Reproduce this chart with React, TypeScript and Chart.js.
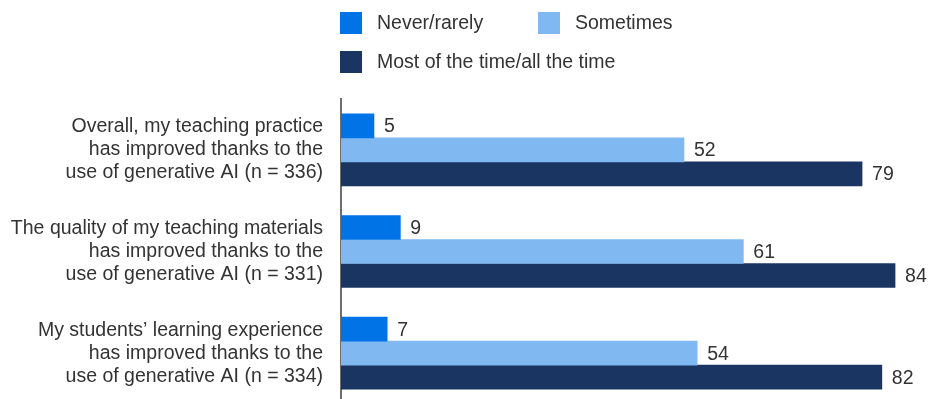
import React, { useEffect, useRef } from "react";
import { Chart, registerables } from "chart.js";

Chart.register(...registerables);

const categories = [
  ["Overall, my teaching practice", "has improved thanks to the", "use of generative AI (n = 336)"],
  ["The quality of my teaching materials", "has improved thanks to the", "use of generative AI (n = 331)"],
  ["My students\u2019 learning experience", "has improved thanks to the", "use of generative AI (n = 334)"],
];
const seriesNames = ["Never/rarely", "Sometimes", "Most of the time/all the time"];
const neverRarely = [5, 9, 7];
const sometimes = [52, 61, 54];
const mostOfTheTime = [79, 84, 82];
const seriesColors = ["#0073E6", "#80B8F2", "#1B3562"];

const FONT = '"Liberation Sans", Arial, sans-serif';
const TEXT = "#333333";
const FSIZE = 19.5;

const valueLabels = {
  id: "valueLabels",
  afterDatasetsDraw(chart: any) {
    const ctx = chart.ctx;
    ctx.save();
    ctx.font = `${FSIZE}px ${FONT}`;
    ctx.fillStyle = TEXT;
    ctx.textAlign = "left";
    ctx.textBaseline = "middle";
    chart.data.datasets.forEach((ds: any, i: number) => {
      const meta = chart.getDatasetMeta(i);
      meta.data.forEach((bar: any, j: number) => {
        ctx.fillText(String(ds.data[j]), bar.x + 10, bar.y + 1);
      });
    });
    ctx.restore();
  },
};

const customLegend = {
  id: "customLegend",
  afterDraw(chart: any) {
    const ctx = chart.ctx;
    const left = chart.chartArea.left - 1;
    const items = [
      { x: left, y: 12 },
      { x: left + 198, y: 12 },
      { x: left, y: 51 },
    ];
    ctx.save();
    ctx.font = `${FSIZE}px ${FONT}`;
    ctx.textBaseline = "middle";
    ctx.textAlign = "left";
    chart.data.datasets.forEach((ds: any, i: number) => {
      const p = items[i];
      ctx.fillStyle = ds.backgroundColor;
      ctx.fillRect(p.x, p.y, 22, 22);
      ctx.fillStyle = TEXT;
      ctx.fillText(ds.label, p.x + 37, p.y + 12);
    });
    ctx.restore();
  },
};

export default function App() {
  const ref = useRef<HTMLCanvasElement>(null);
  useEffect(() => {
    document.body.style.margin = "0";
    const chart = new Chart(ref.current!, {
      type: "bar",
      data: {
        labels: categories,
        datasets: [
          { label: seriesNames[0], data: neverRarely, backgroundColor: seriesColors[0] },
          { label: seriesNames[1], data: sometimes, backgroundColor: seriesColors[1] },
          { label: seriesNames[2], data: mostOfTheTime, backgroundColor: seriesColors[2] },
        ],
      },
      options: {
        indexAxis: "y",
        responsive: false,
        animation: false,
        layout: { padding: { top: 99, right: 0, bottom: 0, left: 0 } },
        datasets: { bar: { barThickness: 24 } },
        plugins: {
          legend: { display: false },
          tooltip: { enabled: false },
        },
        scales: {
          x: { display: false, min: 0, max: 89.3 },
          y: {
            grid: { display: false, drawTicks: false },
            border: { display: true, color: "#6E6E6E", width: 2 },
            ticks: {
              color: TEXT,
              padding: 18,
              font: { family: FONT, size: FSIZE, lineHeight: 23 / FSIZE },
            },
            afterFit: (s: any) => {
              s.width = 341;
              s.paddingTop = 0;
              s.paddingBottom = 0;
            },
          },
        },
      } as any,
      plugins: [valueLabels, customLegend],
    });
    return () => chart.destroy();
  }, []);
  return (
    <div style={{ width: 930, height: 399, overflow: "hidden" }}>
      <canvas ref={ref} width={930} height={404} style={{ display: "block" }} />
    </div>
  );
}
